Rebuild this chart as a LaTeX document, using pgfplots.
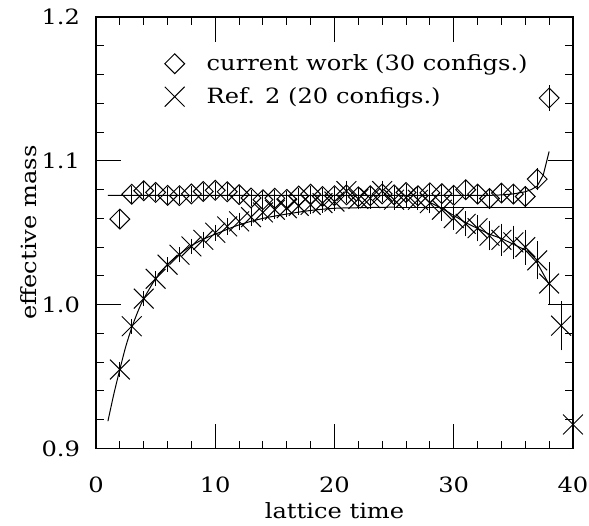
\documentclass[border=0pt]{standalone}
\usepackage{fontspec}
\setmainfont{DejaVu Serif}[FakeStretch=1.15]
\usepackage{pgfplots}
\usepackage{pgfplotstable}
\pgfplotsset{compat=1.18}
\newcommand\lbl{\fontsize{10.5}{12.6}\selectfont}

% current work (30 configs.)
\pgfplotstableread{
t m e
2 1.0595 0.0035
3 1.0768 0.003
4 1.0792 0.003
5 1.0780 0.003
6 1.0760 0.003
7 1.0758 0.003
8 1.0770 0.003
9 1.0787 0.003
10 1.0795 0.003
11 1.0785 0.003
12 1.0765 0.003
13 1.0742 0.003
14 1.0730 0.003
15 1.0740 0.003
16 1.0732 0.003
17 1.0755 0.003
18 1.0768 0.003
19 1.0752 0.003
20 1.0758 0.003
21 1.0764 0.003
22 1.0750 0.003
23 1.0757 0.003
24 1.0770 0.003
25 1.0764 0.003
26 1.0780 0.003
27 1.0757 0.003
28 1.0778 0.003
29 1.0772 0.003
30 1.0760 0.0035
31 1.0799 0.004
32 1.0769 0.004
33 1.0738 0.004
34 1.0776 0.004
35 1.0769 0.004
36 1.0752 0.0045
37 1.0873 0.005
38 1.1437 0.006
}\cur

% Ref. 2 (20 configs.)
\pgfplotstableread{
t m e
2 0.9549 0.001
3 0.9850 0.001
4 1.0042 0.001
5 1.0180 0.001
6 1.0278 0.001
7 1.0347 0.0012
8 1.0405 0.0012
9 1.0451 0.0015
10 1.0500 0.0015
11 1.0544 0.0015
12 1.0579 0.002
13 1.0609 0.002
14 1.0641 0.002
15 1.0660 0.002
16 1.0671 0.002
17 1.0687 0.002
18 1.0694 0.0025
19 1.0706 0.0025
20 1.0717 0.0025
21 1.0790 0.003
22 1.0735 0.003
23 1.0740 0.003
24 1.0790 0.003
25 1.0730 0.003
26 1.0745 0.003
27 1.0729 0.003
28 1.0706 0.003
29 1.0660 0.0035
30 1.0602 0.004
31 1.0562 0.0045
32 1.0532 0.005
33 1.0479 0.006
34 1.0451 0.007
35 1.0433 0.0075
36 1.0400 0.008
37 1.0308 0.009
38 1.0147 0.0105
39 0.9854 0.013
40 0.9167 0
}\refb

\begin{document}
\begin{tikzpicture}
\useasboundingbox (-48pt,-38.25pt) rectangle (246.5pt,224.25pt);
\begin{axis}[
  scale only axis, width=238.5pt, height=215.75pt,
  xmin=0, xmax=40, ymin=0.9, ymax=1.2,
  xtick={0,10,20,30,40}, ytick={0.9,1.0,1.1,1.2},
  minor x tick num=4, minor y tick num=4,
  major tick length=12.5pt, minor tick length=4pt,
  tick align=inside, tick pos=both,
  tick style={line width=0.5pt, black},
  axis line style={line width=0.6pt},
  /pgf/number format/assume math mode=true,
  tick label style={font=\lbl},
  xticklabel style={anchor=center, yshift=-18pt},
  yticklabel style={anchor=east, xshift=-4.5pt,
    /pgf/number format/fixed, /pgf/number format/fixed zerofill,
    /pgf/number format/precision=1},
  label style={font=\lbl},
  xlabel={lattice time},
  xlabel style={at={(axis description cs:0.5,-0.1448)}, anchor=center},
  ylabel={effective mass},
  ylabel style={at={(axis description cs:-0.1405,0.5)}, anchor=center},
  clip=false,
  legend style={at={(axis cs:6.6,1.1755)}, anchor=north west, draw=none, fill=none,
    font=\lbl, inner sep=0pt, outer sep=0pt, row sep=5pt,
    nodes={inner sep=1pt}},
  legend cell align=left,
  legend image code/.code={\path[draw=none,fill=none] (0pt,0pt) -- (15pt,0pt);
    \draw[#1, overlay] plot coordinates {(0pt,0pt)};},
]
% fit for current work
\addplot[black, line width=0.5pt, forget plot] coordinates {
(1,1.0760) (33,1.0760) (34,1.0763) (35,1.0770) (36,1.0785) (36.5,1.0800)
(37,1.0825) (37.5,1.0900) (38,1.1065)};
% fit for Ref. 2
\addplot[black, line width=0.5pt, forget plot, smooth] coordinates {
(1,0.919) (1.5,0.938) (2,0.955) (2.5,0.971) (3,0.984) (3.5,0.995) (4,1.004)
(5,1.018) (6,1.028) (7,1.035) (8,1.041) (9,1.0455) (10,1.049) (12,1.0555)
(14,1.060) (16,1.063) (18,1.0655) (20,1.067) (22,1.0674) (25,1.0678)};
\addplot[black, line width=0.5pt, forget plot] coordinates {(25,1.0678) (40,1.0678)};
\addplot[black, line width=0.5pt, forget plot] coordinates {
(28,1.071) (29,1.067) (30,1.062) (31,1.057) (32,1.053) (33,1.049) (34,1.046)
(35,1.042) (36,1.038) (37,1.029) (38,1.014)};
% data
\addplot[black, only marks, mark=square, mark size=3.5pt,
  mark options={rotate=45, line width=0.5pt, fill=none},
  error bars/.cd, y dir=both, y explicit,
  error bar style={line width=0.5pt},
  error mark options={mark size=2pt, line width=0.5pt, rotate=0}]
  table[x=t, y=m, y error=e] {\cur};
\addlegendentry{current work (30 configs.)}
\addplot[black, only marks, mark=x, mark size=7pt,
  mark options={line width=0.5pt},
  error bars/.cd, y dir=both, y explicit,
  error bar style={line width=0.5pt},
  error mark options={mark size=3pt, line width=0.5pt}]
  table[x=t, y=m, y error=e] {\refb};
\addlegendentry{Ref. 2 (20 configs.)}
\end{axis}
\end{tikzpicture}
\end{document}
